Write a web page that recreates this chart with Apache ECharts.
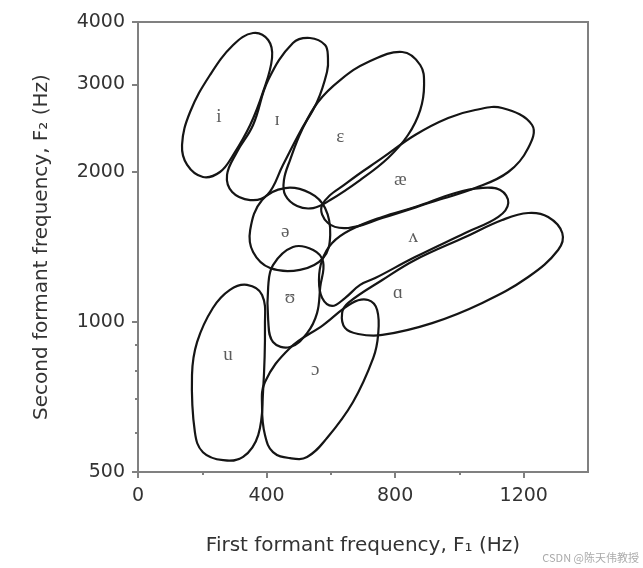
<!DOCTYPE html>
<html>
<head>
<meta charset="utf-8">
<script src="https://cdn.jsdelivr.net/npm/echarts@6/dist/echarts.min.js"></script>
<style>html,body{margin:0;padding:0;background:#fff}#c{width:643px;height:568px}</style>
</head>
<body>
<div id="c"></div>
<script>
// Axis ticks
const xTicks = [0, 400, 800, 1200];
const xMinorTicks = [200, 600, 1000];
const yTicks = [500, 1000, 2000, 3000, 4000];
const yMinorTicks = [600, 700, 800, 900];

// Vowel labels and their positions (F1 Hz, F2 Hz)
const vowelNames = ['i', 'ɪ', 'ɛ', 'æ', 'ə', 'ʌ', 'ɑ', 'ʊ', 'u', 'ɔ'];
const labelF1 = [252, 433, 629, 816, 458, 856, 809, 473, 280, 551];
const labelF2 = [2579, 2543, 2352, 1927, 1516, 1481, 1143, 1117, 859, 801];

// Outline points of each vowel region, [F1, F2] in Hz
const outline_i = [[296,3596],[358,3802],[405,3681],[417,3387],[389,2895],[349,2485],[296,2163],[255,2000],[202,1954],[153,2066],[137,2266],[162,2639],[224,3131]];
const outline_I = [[482,3630],[535,3715],[582,3596],[591,3387],[588,3175],[557,2764],[504,2406],[451,2066],[402,1798],[349,1757],[293,1823],[277,1973],[308,2194],[358,2485],[405,3059]];
const outline_E = [[716,3325],[822,3482],[878,3279],[890,2990],[878,2663],[840,2373],[778,2134],[691,1927],[598,1757],[545,1693],[495,1709],[458,1798],[454,1927],[473,2114],[510,2428],[560,2764],[629,3059]];
const outline_ae = [[1049,2663],[1133,2688],[1226,2485],[1214,2235],[1152,2000],[1049,1857],[915,1741],[760,1617],[654,1544],[591,1580],[573,1717],[654,1910],[760,2134],[862,2373],[965,2567]];
const outline_schwa = [[458,1857],[535,1815],[582,1693],[598,1495],[576,1344],[504,1272],[411,1283],[358,1382],[349,1530],[386,1757]];
const outline_wedge = [[1065,1857],[1127,1840],[1152,1733],[1121,1625],[1018,1509],[862,1350],[738,1225],[691,1187],[644,1117],[604,1077],[573,1117],[563,1214],[573,1332],[604,1441],[660,1530],[760,1625],[862,1701],[987,1815]];
const outline_a = [[1214,1655],[1276,1625],[1320,1509],[1307,1395],[1214,1231],[1071,1092],[915,995],[760,942],[685,946],[644,973],[635,1042],[654,1092],[760,1214],[862,1332],[1018,1481],[1133,1602]];
const outline_U = [[482,1414],[545,1395],[576,1320],[567,1176],[557,1042],[526,950],[473,891],[420,912],[405,1009],[405,1176],[420,1301]];
const outline_u = [[339,1187],[386,1133],[395,986],[389,724],[374,593],[327,536],[265,528],[202,548],[177,601],[168,783],[184,912],[233,1067],[286,1160]];
const outline_O = [[473,887],[576,986],[666,1092],[716,1107],[744,1057],[747,942],[732,847],[669,691],[588,585],[526,536],[473,533],[420,548],[395,593],[386,672],[395,758]];

const outlines = [outline_i, outline_I, outline_E, outline_ae, outline_schwa, outline_wedge, outline_a, outline_U, outline_u, outline_O];

const Y0 = 500;
const oct = v => Math.log2(v / Y0);
const axisColor = '#808080';
const textColor = '#333';
const sansFont = 'DejaVu Sans';

const chart = echarts.init(document.getElementById('c'), null, {renderer: 'canvas'});
chart.setOption({
  animation: false,
  backgroundColor: '#fff',
  grid: {left: 138, right: 55, top: 22, bottom: 96, show: true, borderColor: axisColor, borderWidth: 2, backgroundColor: 'transparent'},
  xAxis: [
    {
      type: 'value', min: 0, max: 1400, position: 'bottom',
      name: 'First formant frequency, F₁ (Hz)', nameLocation: 'middle', nameGap: 64,
      nameTextStyle: {fontFamily: sansFont, fontSize: 20, color: textColor},
      axisLine: {show: true, lineStyle: {color: axisColor, width: 2}},
      axisTick: {show: true, length: 6, customValues: xTicks, lineStyle: {color: axisColor, width: 2}},
      axisLabel: {customValues: xTicks, margin: 15, fontFamily: sansFont, fontSize: 19, color: textColor,
        formatter: v => String(v)},
      splitLine: {show: false}
    },
    {
      type: 'value', min: 0, max: 1400, position: 'bottom',
      axisLine: {show: false},
      axisTick: {show: true, length: 3, customValues: xMinorTicks, lineStyle: {color: axisColor, width: 2}},
      axisLabel: {show: false},
      splitLine: {show: false}
    }
  ],
  yAxis: [
    {
      type: 'log', logBase: 2, min: 500, max: 4000, position: 'left', show: false
    },
    {
      type: 'value', min: 0, max: 3, position: 'left',
      name: 'Second formant frequency, F₂ (Hz)', nameLocation: 'middle', nameGap: 86, nameRotate: 90,
      nameTextStyle: {fontFamily: sansFont, fontSize: 20, color: textColor},
      axisLine: {show: true, lineStyle: {color: axisColor, width: 2}},
      axisTick: {show: true, length: 6, customValues: yTicks.map(oct), lineStyle: {color: axisColor, width: 2}},
      axisLabel: {customValues: yTicks.map(oct), margin: 13, fontFamily: sansFont, fontSize: 19, color: textColor,
        formatter: v => String(Math.round(Y0 * Math.pow(2, v)))},
      splitLine: {show: false}
    },
    {
      type: 'value', min: 0, max: 3, position: 'left',
      axisLine: {show: false},
      axisTick: {show: true, length: 3, customValues: yMinorTicks.map(oct), lineStyle: {color: axisColor, width: 2}},
      axisLabel: {show: false},
      splitLine: {show: false}
    }
  ],
  series: [
    {
      type: 'custom', xAxisIndex: 0, yAxisIndex: 0, clip: false,
      data: vowelNames.map((n, i) => [labelF1[i], labelF2[i]]),
      renderItem: (params, api) => {
        const pts = outlines[params.dataIndex].map(p => api.coord(p));
        return {type: 'polygon', shape: {points: pts, smooth: 0.4},
          style: {fill: 'none', stroke: '#151515', lineWidth: 2.2}};
      },
      z: 2
    },
    {
      type: 'scatter', xAxisIndex: 0, yAxisIndex: 0,
      symbol: 'circle', symbolSize: 1, itemStyle: {color: 'rgba(0,0,0,0)'},
      data: vowelNames.map((n, i) => ({name: n, value: [labelF1[i], labelF2[i]]})),
      label: {show: true, position: 'inside', formatter: p => p.name,
        fontFamily: 'Liberation Serif, DejaVu Serif, serif', fontSize: 19, color: '#333'},
      z: 3
    }
  ],
  graphic: [
    {type: 'text', right: 4, bottom: 5, style: {text: 'CSDN @陈天伟教授', fill: '#aaa', font: '11px "Noto Sans CJK SC"'}}
  ]
});
</script>
</body>
</html>
